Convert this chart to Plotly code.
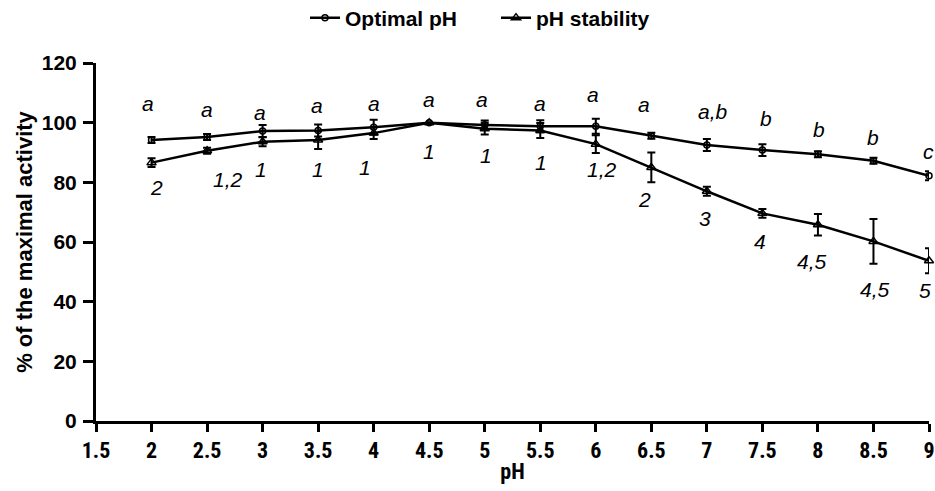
import plotly.graph_objects as go

ph = [2, 2.5, 3, 3.5, 4, 4.5, 5, 5.5, 6, 6.5, 7, 7.5, 8, 8.5, 9]
optimal = [94.2, 95.2, 97.2, 97.4, 98.5, 100, 99.2, 98.8, 98.8, 95.6, 92.5, 90.8, 89.4, 87.2, 82.2]
optimal_err = [1.0, 1.0, 2.0, 2.0, 2.5, 0, 1.5, 2.0, 2.5, 1.0, 2.0, 2.0, 1.0, 1.0, 1.5]
stability = [86.6, 90.6, 93.6, 94.2, 96.5, 100, 98.0, 97.4, 92.8, 85.0, 77.0, 69.6, 65.8, 60.2, 53.7]
stability_err = [1.5, 1.0, 1.5, 3.0, 2.0, 0, 2.0, 2.5, 3.0, 5.0, 1.5, 1.5, 3.6, 7.5, 4.2]
optimal_labels = ["a", "a", "a", "a", "a", "a", "a", "a", "a", "a", "a,b", "b", "b", "b", "c"]
stability_labels = ["2", "1,2", "1", "1", "1", "1", "1", "1", "1,2", "2", "3", "4", "4,5", "4,5", "5"]
x_ticks = [1.5, 2, 2.5, 3, 3.5, 4, 4.5, 5, 5.5, 6, 6.5, 7, 7.5, 8, 8.5, 9]
y_ticks = [0, 20, 40, 60, 80, 100, 120]

# label offsets (pixels)
opt_dy = [36, 27, 19, 25, 24, 23, 26, 23, 32, 31, 34, 32, 25, 23, 24]
opt_dx = [-4, 0, -3, -1, 0, 0, -3, 0, -3, -7, 6, 4, 1, 0, -1]
stab_dy = [25, 29, 28, 30, 34, 29, 27, 32, 25, 32, 27, 28, 37, 48, 30]
stab_dx = [5, 21, -2, 0, -9, 0, 1, 1, 6, -7, -2, -2, -6, 2, -4]

FONT = "Liberation Sans, Arial, sans-serif"
NARROW = "Liberation Sans Narrow, Arial Narrow, Roboto Condensed, Liberation Sans, sans-serif"

fig = go.Figure()
fig.add_trace(go.Scatter(
    x=ph, y=optimal, name="Optimal pH", mode="lines+markers",
    line=dict(color="black", width=2.5),
    marker=dict(symbol="circle-open", size=6, color="black", line=dict(width=1.5)),
    error_y=dict(type="data", array=optimal_err, color="black", thickness=2, width=4),
    cliponaxis=False,
))
fig.add_trace(go.Scatter(
    x=ph, y=stability, name="pH stability", mode="lines+markers",
    line=dict(color="black", width=2.5),
    marker=dict(symbol="triangle-up-open", size=8, color="black", line=dict(width=1.5)),
    error_y=dict(type="data", array=stability_err, color="black", thickness=2, width=4),
    cliponaxis=False,
))

for i, x in enumerate(ph):
    fig.add_annotation(x=x, y=optimal[i], text=optimal_labels[i], showarrow=False,
                       yshift=opt_dy[i], xshift=opt_dx[i],
                       font=dict(family=FONT, size=21, color="black", style="italic"))
    fig.add_annotation(x=x, y=stability[i], text=stability_labels[i], showarrow=False,
                       yshift=-stab_dy[i], xshift=stab_dx[i],
                       font=dict(family=FONT, size=21, color="black", style="italic"))

fig.update_layout(
    width=935, height=491,
    margin=dict(l=96, r=6, t=63, b=70, autoexpand=False),
    paper_bgcolor="white", plot_bgcolor="white",
    font=dict(family=FONT, color="black"),
    showlegend=True,
    legend=dict(orientation="h", x=305 / 935, xanchor="left", xref="container",
                y=1 - 18 / 491, yref="container", yanchor="middle",
                entrywidth=146, entrywidthmode="pixels",
                font=dict(family=FONT, size=21, weight="bold"),
                bgcolor="rgba(0,0,0,0)"),
    xaxis=dict(range=[1.5, 9], tickvals=x_ticks, ticktext=[f"{v:g}" for v in x_ticks],
               automargin=False,
               showgrid=False, zeroline=False, showline=True, linecolor="black", linewidth=3,
               ticks="outside", tickwidth=2.5, ticklen=8, tickcolor="black",
               ticklabeloverflow="allow",
               tickfont=dict(family=NARROW, size=22, weight="bold"),
               title=dict(text="pH", font=dict(family=NARROW, size=22, weight="bold"), standoff=2)),
    yaxis=dict(range=[0, 120], tickvals=y_ticks, automargin=False,
               showgrid=False, zeroline=False, showline=True, linecolor="black", linewidth=3,
               ticks="outside", tickwidth=2.5, ticklen=10, tickcolor="black",
               ticklabelstandoff=2,
               tickfont=dict(family=FONT, size=21, weight="bold"),
               title=dict(text="% of the maximal activity", font=dict(family=FONT, size=22, weight="bold"), standoff=4)),
)

fig.write_html("out.html")
